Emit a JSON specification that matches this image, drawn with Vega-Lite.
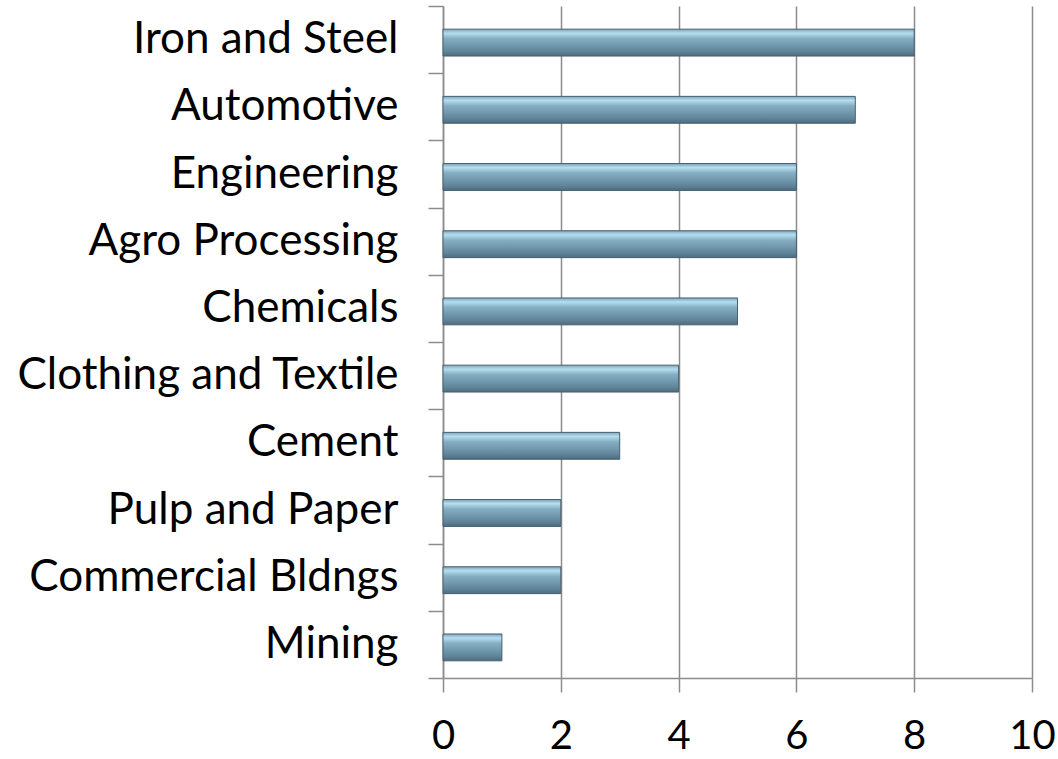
{
  "$schema": "https://vega.github.io/schema/vega-lite/v6.json",
  "width": 589,
  "height": 672,
  "autosize": "none",
  "padding": {"left": 443, "top": 6, "right": 26, "bottom": 81},
  "background": "white",
  "data": {"values": [
    {"sector": "Iron and Steel", "value": 8},
    {"sector": "Automotive", "value": 7},
    {"sector": "Engineering", "value": 6},
    {"sector": "Agro Processing", "value": 6},
    {"sector": "Chemicals", "value": 5},
    {"sector": "Clothing and Textile", "value": 4},
    {"sector": "Cement", "value": 3},
    {"sector": "Pulp and Paper", "value": 2},
    {"sector": "Commercial Bldngs", "value": 2},
    {"sector": "Mining", "value": 1}
  ]},
  "mark": {
    "type": "bar",
    "height": {"band": 0.4},
    "yOffset": 3,
    "stroke": "#46606f",
    "strokeWidth": 1,
    "fill": {
      "gradient": "linear", "x1": 0, "y1": 0, "x2": 0, "y2": 1,
      "stops": [
        {"offset": 0, "color": "#7fa3b8"},
        {"offset": 0.15, "color": "#b5def0"},
        {"offset": 0.35, "color": "#86aec3"},
        {"offset": 0.8, "color": "#62879c"},
        {"offset": 1, "color": "#4d6c7e"}
      ]
    }
  },
  "encoding": {
    "y": {
      "field": "sector", "type": "nominal", "sort": null, "title": null,
      "scale": {"paddingInner": 0, "paddingOuter": 0},
      "axis": {
        "tickBand": "extent",
        "domainColor": "#8c8c8c", "domainWidth": 1.5,
        "tickColor": "#8c8c8c", "tickWidth": 1.5, "tickSize": 15,
        "labelFont": "Lato", "labelFontSize": 44, "labelColor": "#000000",
        "labelPadding": 30, "labelLimit": 500, "grid": false
      }
    },
    "x": {
      "field": "value", "type": "quantitative", "title": null,
      "scale": {"domain": [0, 10], "nice": false},
      "axis": {
        "values": [0, 2, 4, 6, 8, 10],
        "domainColor": "#8c8c8c", "domainWidth": 1.5,
        "tickColor": "#8c8c8c", "tickWidth": 1.5, "tickSize": 14,
        "grid": true, "gridColor": "#8c8c8c", "gridWidth": 1.5,
        "labelFont": "Lato", "labelFontSize": 40, "labelColor": "#000000",
        "labelPadding": 24, "labelFlush": false
      }
    }
  },
  "config": {"view": {"stroke": null}}
}
